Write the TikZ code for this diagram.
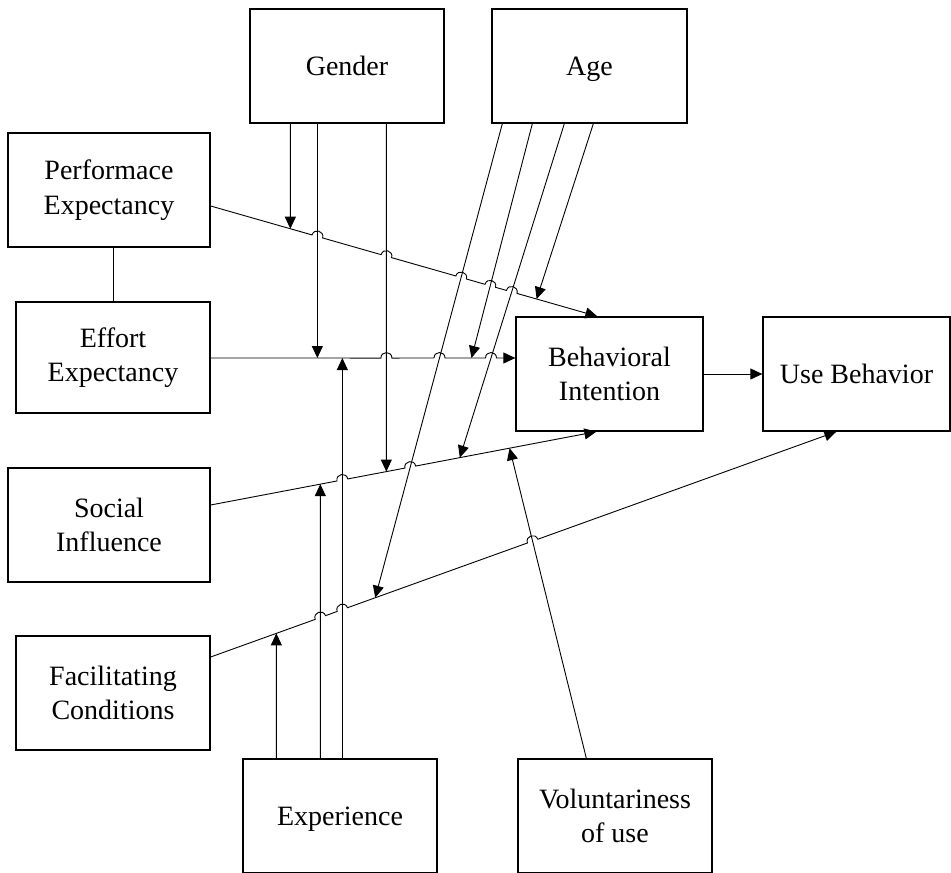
\documentclass[tikz,border=0pt]{standalone}
\usepackage{fontspec}
\setmainfont{Liberation Serif}
\usetikzlibrary{calc,arrows.meta}
\begin{document}
\begin{tikzpicture}[x=1bp,y=-1bp,
  box/.style={draw,line width=1.3bp,inner sep=0pt,align=center,
    font=\fontsize{28bp}{34.5bp}\selectfont},
  dims/.style 2 args={minimum width=#1bp,minimum height=#2bp},
  link/.style={line width=0.9bp},
  arr/.style={link,-{Triangle[length=12bp,width=11bp]}},
  hop/.style={out=90,in=90,relative,looseness=1.7},
]
\useasboundingbox (0,0) rectangle (951,873);

% ---- boxes ----
\node[box,dims={194}{114}] (gender) at (347,66)    {Gender};
\node[box,dims={195}{114},text depth=0pt] (age) at (589.5,66) {Age};
\node[box,dims={202}{114}] (perf)   at (109,190)   {Performace\\Expectancy};
\node[box,dims={194}{111}] (effort) at (113,357.5) {Effort\\Expectancy};
\node[box,dims={202}{114}] (social) at (109,525)   {Social\\Influence};
\node[box,dims={194}{114}] (facil)  at (113,693)   {Facilitating\\Conditions};
\node[box,dims={194}{114},text depth=0pt] (exper) at (340,816) {Experience};
\node[box,dims={194}{114}] (volun)  at (615,816)   {Voluntariness\\of use};
\node[box,dims={187}{114}] (bi)     at (609.5,374) {Behavioral\\Intention};
\node[box,dims={187}{114}] (ub)     at (856.5,374) {Use Behavior};

% ---- main paths (start / end points) ----
\coordinate (pe-o) at ($(perf.east)+(0,16)$);
\coordinate (pe-i) at ($(bi.north west)+(82,0)$);
\coordinate (ef-o) at ($(effort.east)+(0,0.5)$);
\coordinate (ef-i) at (bi.west |- ef-o);
\coordinate (so-o) at ($(social.east)+(0,-20)$);
\coordinate (so-i) at ($(bi.south west)+(81,0)$);
\coordinate (fa-o) at ($(facil.east)+(0,-36)$);
\coordinate (fa-i) at ($(ub.south west)+(74,0)$);

% ---- moderator lines: gender ----
\coordinate (g1) at ($(gender.south west)+(41,0)$);
\coordinate (g2) at ($(gender.south west)+(68,0)$);
\coordinate (g3) at ($(gender.south west)+(137,0)$);
\coordinate (g1d) at ($(g1)+(0,100)$);
\coordinate (g3d) at ($(g3)+(0,100)$);
\coordinate (g1t) at (intersection of pe-o--pe-i and g1--g1d);
\coordinate (g2t) at (g2 |- ef-o);
\coordinate (g3t) at (intersection of so-o--so-i and g3--g3d);

% ---- moderator lines: age ----
\coordinate (a1) at ($(age.south west)+(11,0)$);
\coordinate (a2) at ($(age.south west)+(41,0)$);
\coordinate (a3) at ($(age.south west)+(73,0)$);
\coordinate (a4) at ($(age.south west)+(102,0)$);
\coordinate (a1t) at ($(fa-o)!0.263!(fa-i)$);
\coordinate (a2t) at ($(ef-o)!0.856!(ef-i)$);
\coordinate (a3t) at ($(so-o)!0.646!(so-i)$);
\coordinate (a4t) at ($(pe-o)!0.843!(pe-i)$);

% ---- moderator lines: experience ----
\coordinate (e1) at ($(exper.north west)+(34,0)$);
\coordinate (e2) at ($(exper.north west)+(78,0)$);
\coordinate (e3) at ($(exper.north west)+(100,0)$);
\coordinate (e1d) at ($(e1)+(0,-100)$);
\coordinate (e2d) at ($(e2)+(0,-100)$);
\coordinate (e1t) at (intersection of fa-o--fa-i and e1--e1d);
\coordinate (e2t) at (intersection of so-o--so-i and e2--e2d);
\coordinate (e3t) at (e3 |- ef-o);

% ---- moderator line: voluntariness ----
\coordinate (vo)  at ($(volun.north west)+(69,0)$);
\coordinate (vot) at ($(so-o)!0.775!(so-i)$);

% ---- crossing points (line hops) ----
\coordinate (hp1) at (intersection of pe-o--pe-i and g2--g2t);
\coordinate (hp2) at (intersection of pe-o--pe-i and g3--g3t);
\coordinate (hp3) at (intersection of pe-o--pe-i and a1--a1t);
\coordinate (hp4) at (intersection of pe-o--pe-i and a2--a2t);
\coordinate (hp5) at (intersection of pe-o--pe-i and a3--a3t);
\coordinate (he1) at (intersection of ef-o--ef-i and g3--g3t);
\coordinate (he2) at (intersection of ef-o--ef-i and a1--a1t);
\coordinate (he3) at (intersection of ef-o--ef-i and a3--a3t);
\coordinate (hs1) at (intersection of so-o--so-i and e3--e3t);
\coordinate (hs2) at (intersection of so-o--so-i and a1--a1t);
\coordinate (hf1) at (intersection of fa-o--fa-i and e2--e2t);
\coordinate (hf2) at (intersection of fa-o--fa-i and e3--e3t);
\coordinate (hf3) at (intersection of fa-o--fa-i and vo--vot);

% ---- determinant paths with hops ----
\draw[arr] (pe-o) \foreach \h in {hp1,hp2,hp3,hp4,hp5}{
    -- ($(\h)!5.5bp!(pe-o)$) to[hop] ($(\h)!5.5bp!(pe-i)$) } -- (pe-i);
\draw[arr] (ef-o) \foreach \h in {he1,he2,he3}{
    -- ($(\h)!5.5bp!(ef-o)$) to[hop] ($(\h)!5.5bp!(ef-i)$) } -- (ef-i);
\draw[arr] (so-o) \foreach \h in {hs1,hs2}{
    -- ($(\h)!5.5bp!(so-o)$) to[hop] ($(\h)!5.5bp!(so-i)$) } -- (so-i);
\draw[arr] (fa-o) \foreach \h in {hf1,hf2,hf3}{
    -- ($(\h)!5.5bp!(fa-o)$) to[hop] ($(\h)!5.5bp!(fa-i)$) } -- (fa-i);

\draw[arr] (bi) -- (ub);
\draw[link] (effort.north |- perf.south) -- (effort.north);

% ---- moderators ----
\draw[arr] (g1) -- (g1t);
\draw[arr] (g2) -- (g2t);
\draw[arr] (g3) -- (g3t);
\draw[arr] (a1) -- (a1t);
\draw[arr] (a2) -- (a2t);
\draw[arr] (a3) -- (a3t);
\draw[arr] (a4) -- (a4t);
\draw[arr] (e1) -- (e1t);
\draw[arr] (e2) -- (e2t);
\draw[arr] (e3) -- (e3t);
\draw[arr] (vo) -- (vot);
\end{tikzpicture}
\end{document}
